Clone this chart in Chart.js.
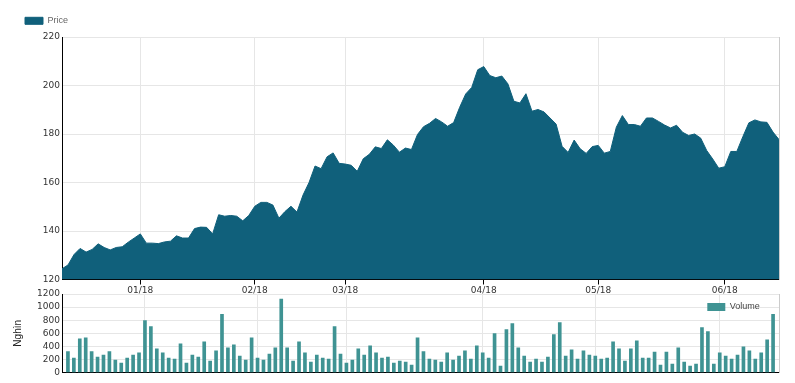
<!DOCTYPE html>
<html>
<head>
<meta charset="utf-8">
<title>Price / Volume</title>
<script src="https://cdn.jsdelivr.net/npm/chart.js@4.4.1/dist/chart.umd.min.js"></script>
<style>
  html, body { margin: 0; padding: 0; background: #fff; }
  #wrap { position: relative; width: 795px; height: 383px; }
  .box { position: absolute; left: 0; width: 795px; }
  #priceBox { top: 0; height: 300px; }
  #volBox { top: 286px; height: 94px; }
</style>
</head>
<body>
<div id="wrap">
  <div class="box" id="priceBox"><canvas id="priceChart"></canvas></div>
  <div class="box" id="volBox"><canvas id="volChart"></canvas></div>
</div>
<script>
// daily closing price, mid Dec 2017 -> mid Jun 2018
const priceValues = [
    124.4, 126, 130.3, 132.8, 131.3, 132.4, 134.7, 133.2, 132.2, 133.2,
    133.5, 135.4, 137.1, 138.8, 135, 135, 134.8, 135.5, 135.8, 138,
    137.1, 137.1, 141, 141.6, 141.5, 138.8, 146.7, 146.1, 146.4, 146.1,
    144.2, 146.4, 150.2, 151.8, 151.8, 150.7, 145.3, 148, 150.2, 147.8,
    154.8, 160, 166.8, 165.7, 170.6, 172.2, 167.9, 167.6, 167.1, 164.6,
    169.8, 171.6, 174.7, 174, 177.6, 175.4, 172.5, 174.2, 173.6, 179.8,
    183, 184.4, 186.4, 185, 183.2, 184.7, 191, 196.5, 199.2, 206.5,
    207.8, 204.1, 203.2, 203.9, 200.7, 193.5, 192.8, 196.6, 189.4, 190.1,
    189.1, 186.6, 184.1, 174.9, 172.4, 177.5, 173.9, 172, 174.8, 175.3,
    172.1, 172.8, 182.8, 187.6, 183.9, 183.9, 183.2, 186.6, 186.6, 185.2,
    183.7, 182.5, 183.6, 180.7, 179.4, 180, 178.3, 173.2, 169.7, 165.9,
    166.5, 172.8, 172.8, 178.9, 184.6, 185.8, 185, 184.8, 180.8, 177.7
];

// traded volume, thousands of shares
const volumeValues = [
    320, 222, 517, 532, 320, 238, 269, 320, 191, 145,
    222, 269, 300, 796, 703, 362, 300, 222, 207, 440,
    145, 269, 238, 470, 176, 331, 889, 377, 424, 253,
    191, 532, 222, 191, 284, 377, 1122, 377, 176, 470,
    300, 160, 269, 222, 207, 703, 284, 145, 191, 362,
    269, 408, 300, 222, 238, 145, 176, 160, 114, 532,
    320, 207, 191, 160, 300, 191, 253, 331, 207, 408,
    300, 222, 595, 98, 657, 750, 377, 253, 160, 207,
    160, 238, 579, 765, 253, 346, 207, 331, 269, 253,
    207, 222, 470, 362, 176, 362, 486, 222, 222, 315,
    114, 315, 129, 377, 160, 98, 129, 688, 626, 129,
    300, 253, 207, 269, 393, 331, 207, 300, 501, 889
];

// first trading session of each month
const monthStartIdx = [13, 32, 47, 70, 89, 110];
const monthLabels = ['01/18', '02/18', '03/18', '04/18', '05/18', '06/18'];

const PRICE_COLOR = '#10607b';
const VOL_COLOR = '#3f9393';
const GRID = '#e6e6e6';
const AXIS_W = 62;

Chart.defaults.font.family = 'DejaVu Sans';
Chart.defaults.font.size = 9;
Chart.defaults.color = '#333';

function monthTicks(scale) {
    scale.ticks = monthStartIdx.map(v => ({ value: v }));
}
function monthLabel(value) {
    let k = monthStartIdx.indexOf(value);
    return k < 0 ? '' : monthLabels[k];
}
function plainNumber(value) {
    return String(value);
}
function fixWidth(scale) {
    scale.width = AXIS_W;
}

// put the legend box at a given top-left corner (canvas coords) after layout
const legendSpot = {
    id: 'legendSpot',
    afterLayout(chart, args, opts) {
        let lg = chart.legend;
        let lab = lg.options.labels;
        let fs = lab.font.size;
        let boxX = lg.left + lab.padding;
        let boxY = lg.top + lab.padding + Math.max((fs - lab.boxHeight) / 2, 0);
        let dx = opts.x - boxX, dy = opts.y - boxY;
        lg.left += dx; lg.right += dx;
        lg.top += dy; lg.bottom += dy;
    }
};

const rightBorder = {
    position: 'right',
    ticks: { display: false },
    grid: { drawOnChartArea: false, drawTicks: false },
    border: { color: '#cccccc' }
};

new Chart(document.getElementById('priceChart'), {
    type: 'line',
    data: {
        datasets: [{
            label: 'Price',
            data: priceValues.map((v, i) => ({ x: i, y: v })),
            borderColor: PRICE_COLOR,
            backgroundColor: PRICE_COLOR,
            borderWidth: 1,
            fill: 'start',
            pointRadius: 0,
            tension: 0
        }]
    },
    options: {
        responsive: true,
        maintainAspectRatio: false,
        animation: false,
        layout: { padding: { left: 0, right: 16, top: 10, bottom: 2.7 } },
        plugins: {
            legend: {
                position: 'top',
                align: 'start',
                labels: {
                    boxWidth: 18,
                    boxHeight: 7,
                    padding: 8,
                    color: '#666',
                    font: { family: 'Liberation Sans', size: 9 }
                }
            },
            tooltip: { enabled: false },
            legendSpot: { x: 25, y: 17.3 }
        },
        scales: {
            x: {
                type: 'linear',
                min: 0,
                max: priceValues.length - 1,
                afterBuildTicks: monthTicks,
                ticks: { callback: monthLabel, autoSkip: false, maxRotation: 0, padding: 1 },
                grid: { color: GRID, tickColor: '#000', tickLength: 5 },
                border: { color: '#000' }
            },
            y: {
                min: 120,
                max: 220,
                ticks: { stepSize: 20, padding: 2, autoSkip: false, callback: plainNumber },
                grid: { color: GRID, drawTicks: false },
                border: { color: '#000' },
                afterFit: fixWidth
            },
            yR: rightBorder
        }
    },
    plugins: [legendSpot]
});

new Chart(document.getElementById('volChart'), {
    type: 'bar',
    data: {
        datasets: [{
            label: 'Volume',
            data: volumeValues.map((v, i) => ({ x: i, y: v })),
            backgroundColor: VOL_COLOR,
            barThickness: 3
        }]
    },
    options: {
        responsive: true,
        maintainAspectRatio: false,
        animation: false,
        layout: { padding: { left: 0, right: 16, top: 8, bottom: 5.5 } },
        plugins: {
            legend: {
                position: 'chartArea',
                align: 'start',
                labels: {
                    boxWidth: 18,
                    boxHeight: 8,
                    padding: 8,
                    color: '#444',
                    font: { family: 'Liberation Sans', size: 9 }
                }
            },
            tooltip: { enabled: false },
            // canvas starts 286px down the page
            legendSpot: { x: 707.3, y: 17 }
        },
        scales: {
            x: {
                type: 'linear',
                min: -1,
                max: volumeValues.length,
                offset: false,
                afterBuildTicks: monthTicks,
                ticks: { display: false },
                grid: { color: GRID, drawTicks: false, offset: false },
                border: { color: '#000' }
            },
            y: {
                min: 0,
                max: 1200,
                ticks: { stepSize: 200, padding: 2, autoSkip: false, callback: plainNumber },
                grid: { color: GRID, drawTicks: false },
                border: { color: '#000' },
                title: {
                    display: true,
                    text: 'Nghìn',
                    color: '#222',
                    font: { family: 'Liberation Sans', size: 10 },
                    padding: { top: 12, bottom: 0 }
                },
                afterFit: fixWidth
            },
            yR: rightBorder
        }
    },
    plugins: [legendSpot]
});
</script>
</body>
</html>
